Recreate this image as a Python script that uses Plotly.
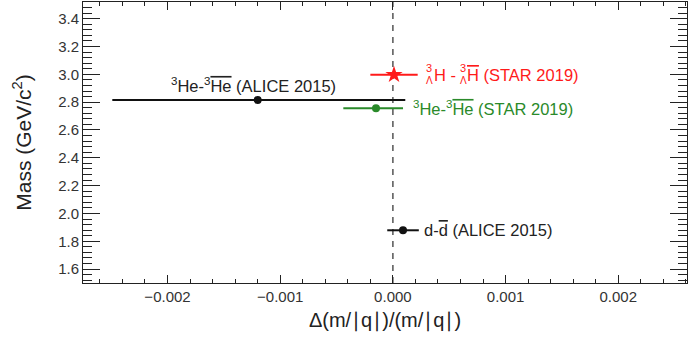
import plotly.graph_objects as go

# ---- data ----
labels = ["ALICE 2015 3He", "STAR 2019 3He", "STAR 2019 hypertriton", "ALICE 2015 d"]
delta = [-0.00120, -0.00015, 0.00001, 0.00009]
err_plus = [0.00131, 0.00024, 0.00021, 0.00014]
err_minus = [0.00129, 0.00029, 0.00021, 0.00014]
mass = [2.816, 2.757, 2.997, 1.879]
colors = ["#111111", "#2a8a2a", "#ff1a1a", "#111111"]
symbols = ["circle", "circle", "star", "circle"]
sizes = [8, 8, 13, 8]

x_range = [-0.00275, 0.00261]
y_range = [1.5, 3.52]

FONT = "Liberation Sans, Arial, sans-serif"

fig = go.Figure()
for i in range(len(labels)):
    fig.add_trace(go.Scatter(
        x=[delta[i]], y=[mass[i]], mode="markers", name=labels[i],
        marker=dict(color=colors[i], symbol=symbols[i], size=sizes[i], line=dict(width=0)),
        error_x=dict(type="data", symmetric=False, array=[err_plus[i]], arrayminus=[err_minus[i]],
                     color=colors[i], thickness=2, width=0),
        showlegend=False, hoverinfo="skip"))

# dashed zero line
fig.add_shape(type="line", xref="x", yref="paper", x0=0, x1=0, y0=0, y1=1,
              line=dict(color="#555555", width=1.5, dash="6px,6px"), layer="below")

ov = lambda s: '<span style="text-decoration:overline">' + s + '</span>'
ann = []
fs = 16.5
# ALICE 3He label (centered above)
ann.append(dict(x=delta[0], y=mass[0], xref="x", yref="y", xanchor="center", yanchor="middle",
                xshift=-4, yshift=15, showarrow=False,
                text="<sup>3</sup>He-<sup>3</sup>" + ov("He") + " (ALICE 2015)",
                font=dict(size=fs, color="#222222", family=FONT)))
# STAR 3He label
ann.append(dict(x=delta[1] + err_plus[1], y=mass[1], xref="x", yref="y", xanchor="left", yanchor="middle",
                xshift=8, yshift=0, showarrow=False,
                text="<sup>3</sup>He-<sup>3</sup>" + ov("He") + " (STAR 2019)",
                font=dict(size=fs, color="#2a8a2a", family=FONT)))
# d label
ann.append(dict(x=delta[3] + err_plus[3], y=mass[3], xref="x", yref="y", xanchor="left", yanchor="middle",
                xshift=3, yshift=0, showarrow=False,
                text="d-" + ov("d") + " (ALICE 2015)",
                font=dict(size=fs, color="#222222", family=FONT)))
# hypertriton label assembled from pieces (stacked pre-scripts)
rx = delta[2] + err_plus[2]
red = "#ff1a1a"
pieces = [
    (6, 7, "3", 11), (6, -6, "Λ", 10),
    (14, 0, "H - ", fs),
    (40, 7, "3", 11), (40, -6, "Λ", 10),
]
for dx, dy, t, s in pieces:
    ann.append(dict(x=rx, y=mass[2], xref="x", yref="y", xanchor="left", yanchor="middle",
                    xshift=dx, yshift=dy, showarrow=False, text=t,
                    font=dict(size=s, color=red, family=FONT)))
ann.append(dict(x=rx, y=mass[2], xref="x", yref="y", xanchor="left", yanchor="middle",
                xshift=47, yshift=0, showarrow=False, text=ov("H") + " (STAR 2019)",
                font=dict(size=fs, color=red, family=FONT)))

fig.update_layout(
    width=695, height=337,
    margin=dict(l=83, r=8, t=2, b=54),
    paper_bgcolor="white", plot_bgcolor="white",
    annotations=ann,
    font=dict(family=FONT, color="#333333"),
)
fig.update_xaxes(
    range=x_range, showgrid=False, zeroline=False,
    showline=True, linecolor="#222222", linewidth=1, mirror="allticks",
    ticks="inside", ticklen=8, tickwidth=1, tickcolor="#222222",
    tickvals=[-0.002, -0.001, 0.0, 0.001, 0.002],
    ticktext=["\u22120.002", "\u22120.001", "0.000", "0.001", "0.002"],
    tickfont=dict(size=15, color="#333333", family=FONT),
    minor=dict(dtick=0.0002, ticks="inside", ticklen=4, tickwidth=1, tickcolor="#222222", showgrid=False),
    title=dict(text="Δ(m/∣q∣)/(m/∣q∣)", font=dict(size=20, color="#222222", family=FONT), standoff=8),
)
fig.update_yaxes(
    range=y_range, showgrid=False, zeroline=False,
    showline=True, linecolor="#222222", linewidth=1, mirror="allticks",
    ticks="inside", ticklen=17, tickwidth=1, tickcolor="#222222",
    tickvals=[1.6, 1.8, 2.0, 2.2, 2.4, 2.6, 2.8, 3.0, 3.2, 3.4],
    ticktext=["1.6", "1.8", "2.0", "2.2", "2.4", "2.6", "2.8", "3.0", "3.2", "3.4"],
    tickfont=dict(size=15, color="#333333", family=FONT),
    minor=dict(dtick=0.04, tick0=1.6, ticks="inside", ticklen=9, tickwidth=1, tickcolor="#222222", showgrid=False),
    title=dict(text="Mass (GeV/c<sup>2</sup>)", font=dict(size=21, color="#222222", family=FONT), standoff=20),
)

fig.write_html("out.html")
